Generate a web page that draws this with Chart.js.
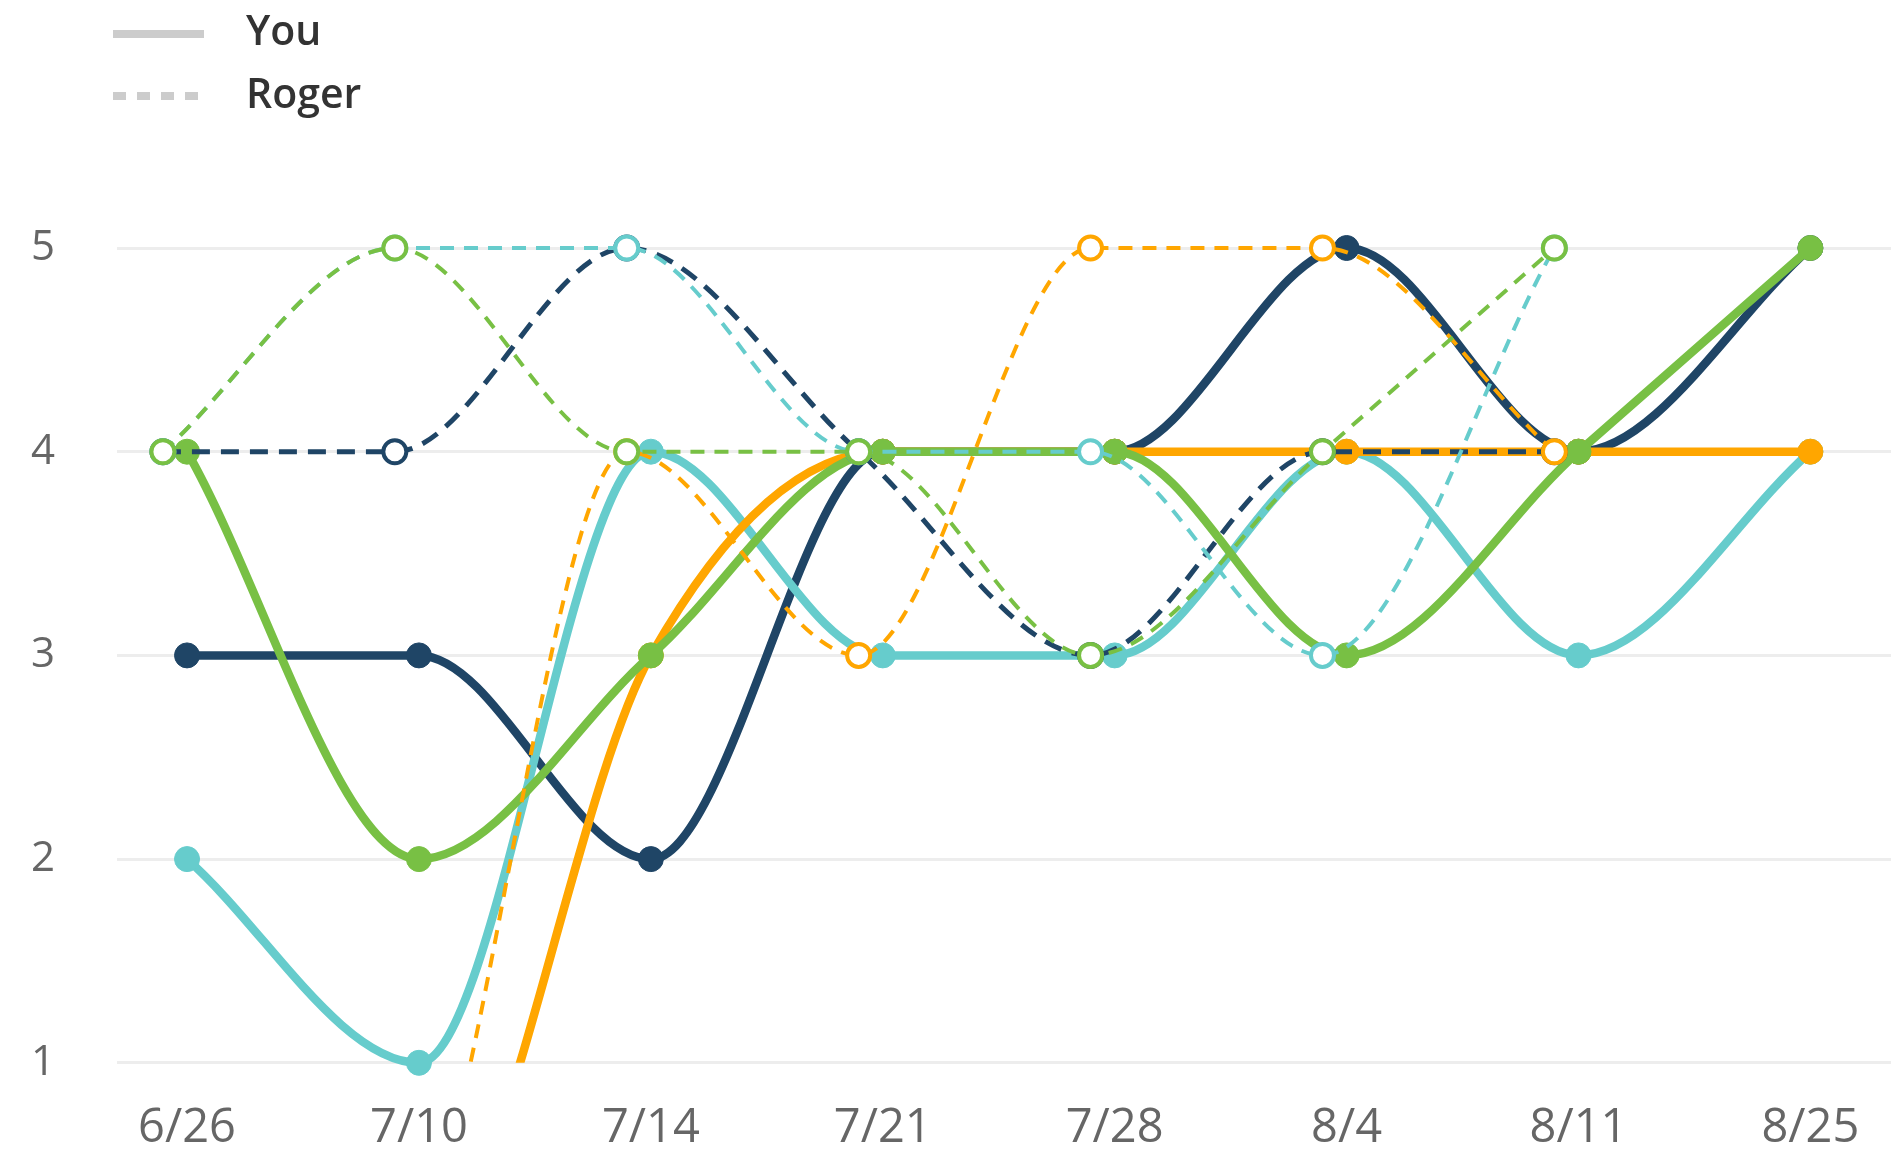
<!DOCTYPE html>
<html>
<head>
<meta charset="utf-8">
<title>Weekly ratings</title>
<script src="https://cdn.jsdelivr.net/npm/chart.js@4.4.1/dist/chart.umd.min.js"></script>
<style>
  html, body { margin: 0; padding: 0; background: #ffffff; }
  #wrap { position: relative; width: 1891px; height: 1150px; overflow: hidden; }
  #chart { position: absolute; left: 0; top: 0; }
  #legend { position: absolute; left: 0; top: 0; }
  #legend text { font-family: "Open Sans", sans-serif; font-weight: 600; font-size: 41px; fill: #333333; }
</style>
</head>
<body>
<div id="wrap">
  <!-- canvas runs a little past the right edge so the grid reaches the border -->
  <canvas id="chart" width="1908" height="1150"></canvas>
  <svg id="legend" width="420" height="130">
    <line x1="113" y1="34" x2="204" y2="34" stroke="#cccccc" stroke-width="8"></line>
    <line x1="113" y1="96" x2="204" y2="96" stroke="#cccccc" stroke-width="8" stroke-dasharray="13 11"></line>
    <text x="246" y="45">You</text>
    <text x="246" y="108">Roger</text>
  </svg>
</div>
<script>
// Week labels along the bottom axis
const weeks = ['6/26', '7/10', '7/14', '7/21', '7/28', '8/4', '8/11', '8/25'];
// Rating scale shown on the left axis
const ratingTicks = [1, 2, 3, 4, 5];

// "You" ratings per week (0 = no rating, sits below the visible scale)
const youNavy   = [3, 3, 2, 4, 4, 5, 4, 5];
const youTeal   = [2, 1, 4, 3, 3, 4, 3, 4];
const youGreen  = [4, 2, 3, 4, 4, 3, 4, 5];
const youOrange = [0, 0, 3, 4, 4, 4, 4, 4];

// "Roger" ratings per week (no entry for the last week)
const rogerNavy   = [4, 4, 5, 4, 3, 4, 4, null];
const rogerTeal   = [4, 5, 5, 4, 4, 3, 5, null];
const rogerGreen  = [4, 5, 4, 4, 3, 4, 5, null];
const rogerOrange = [0, 0, 4, 3, 5, 5, 4, null];

const NAVY = '#1f4566';
const TEAL = '#66cccc';
const GREEN = '#78c044';
const ORANGE = '#ffa600';

// Roger's markers sit slightly left of each week so both people stay visible
const ROGER_SHIFT = -0.104;

function toPoints(values, shift) {
  return values.map((v, i) => ({ x: i + shift, y: v }));
}

// Orange series dip below the lowest rating; cut them at the bottom of the plot
const clipBottom = { left: false, right: false, top: false, bottom: 0 };

function rogerSet(values, color, width, dash, clip) {
  return {
    data: toPoints(values, ROGER_SHIFT),
    borderColor: color,
    borderWidth: width,
    borderDash: dash,
    pointRadius: 11.5,
    pointHoverRadius: 0,
    pointBorderWidth: 4,
    pointBorderColor: color,
    pointBackgroundColor: '#ffffff',
    clip: clip
  };
}

function youSet(values, color, clip) {
  return {
    data: toPoints(values, 0),
    borderColor: color,
    borderWidth: 8.5,
    pointRadius: 12.5,
    pointHoverRadius: 0,
    pointBorderWidth: 1,
    pointBorderColor: color,
    pointBackgroundColor: color,
    clip: clip
  };
}

// First dataset is painted last (on top)
const datasets = [
  rogerSet(rogerGreen, GREEN, 4, [14, 10], false),
  rogerSet(rogerOrange, ORANGE, 4, [14, 10], clipBottom),
  rogerSet(rogerTeal, TEAL, 4, [14, 10], false),
  rogerSet(rogerNavy, NAVY, 5, [18, 11], false),
  youSet(youGreen, GREEN, false),
  youSet(youOrange, ORANGE, clipBottom),
  youSet(youTeal, TEAL, false),
  youSet(youNavy, NAVY, false)
];

new Chart(document.getElementById('chart'), {
  type: 'line',
  data: { datasets: datasets },
  options: {
    responsive: false,
    animation: false,
    events: [],
    layout: { padding: { top: 248, left: 0, right: 0, bottom: 0 } },
    elements: {
      line: { cubicInterpolationMode: 'monotone', fill: false }
    },
    plugins: {
      legend: { display: false },
      tooltip: { enabled: false }
    },
    scales: {
      x: {
        type: 'linear',
        min: -0.302,
        max: 7.354,
        grid: { display: false },
        border: { display: false },
        afterBuildTicks: (scale) => { scale.ticks = weeks.map((w, i) => ({ value: i })); },
        afterFit: (scale) => { scale.height = 84; },
        ticks: {
          autoSkip: false,
          maxRotation: 0,
          padding: 30,
          color: '#666666',
          font: { family: 'Open Sans', size: 47 },
          callback: (value) => weeks[value] !== undefined ? weeks[value] : ''
        }
      },
      y: {
        min: 1,
        max: 5,
        afterBuildTicks: (scale) => { scale.ticks = ratingTicks.map(v => ({ value: v })); },
        afterFit: (scale) => { scale.width = 117; },
        grid: { color: '#ededed', lineWidth: 3, drawTicks: false },
        border: { display: false },
        ticks: {
          padding: 62,
          color: '#666666',
          font: { family: 'Open Sans', size: 42 }
        }
      }
    }
  }
});
</script>
</body>
</html>
